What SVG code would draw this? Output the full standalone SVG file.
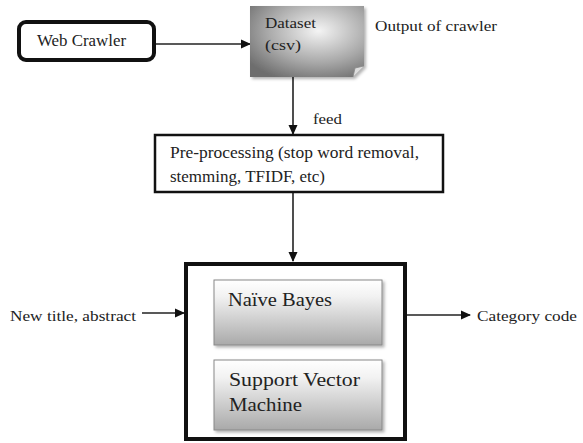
<svg xmlns="http://www.w3.org/2000/svg" width="583" height="443" viewBox="0 0 583 443">
<defs>
<style>
text{font-family:'Liberation Serif','DejaVu Serif',serif;fill:#222}
.ln{stroke:#222;stroke-width:1.6;fill:none}
</style>
<marker id="ah" markerWidth="10" markerHeight="10" refX="9" refY="5" orient="auto" markerUnits="userSpaceOnUse">
<path d="M0,0.5 L10,5 L0,9.5 Z" fill="#111"/>
</marker>
<radialGradient id="dsg" cx="0.6" cy="0.35" r="0.75">
<stop offset="0" stop-color="#f4f4f4"/>
<stop offset="0.6" stop-color="#a8a8a8"/>
<stop offset="1" stop-color="#6e6e6e"/>
</radialGradient>
<linearGradient id="cg" x1="0" y1="0" x2="0" y2="1">
<stop offset="0" stop-color="#ffffff"/>
<stop offset="0.25" stop-color="#f2f2f2"/>
<stop offset="1" stop-color="#a9a9a9"/>
</linearGradient>
<filter id="sh" x="-10%" y="-10%" width="130%" height="130%">
<feDropShadow dx="2" dy="2" stdDeviation="1.5" flood-color="#000" flood-opacity="0.3"/>
</filter>
</defs>
<g font-family="Liberation Serif, DejaVu Serif, serif">
<g id="connectors">
<line class="ln" x1="156" y1="44" x2="250" y2="44" marker-end="url(#ah)"/>
<line class="ln" x1="293" y1="77" x2="293" y2="134" marker-end="url(#ah)"/>
<line class="ln" x1="293" y1="193" x2="293" y2="261" marker-end="url(#ah)"/>
<line class="ln" x1="142" y1="313" x2="184" y2="313" marker-end="url(#ah)"/>
<line class="ln" x1="407" y1="315" x2="470" y2="315" marker-end="url(#ah)"/>
<text x="313" y="124" font-size="15" textLength="29" lengthAdjust="spacingAndGlyphs">feed</text>
</g>
<g id="web-crawler">
<rect x="19" y="22" width="135" height="38" rx="7" fill="#fff" stroke="#111" stroke-width="4"/>
<text x="37" y="46" font-size="16" textLength="89" lengthAdjust="spacingAndGlyphs">Web Crawler</text>
</g>
<g id="dataset">
<path d="M250,6 H364 V66 L353,77 H250 Z" fill="url(#dsg)" filter="url(#sh)"/>
<path d="M353,77 L355,68 L364,66" fill="#ddd" stroke="#888" stroke-width="0.8"/>
<text x="265" y="28" font-size="15" textLength="51" lengthAdjust="spacingAndGlyphs">Dataset</text>
<text x="265" y="50" font-size="15" textLength="36" lengthAdjust="spacingAndGlyphs">(csv)</text>
</g>
<g id="output-label">
<text x="375" y="31" font-size="15" textLength="122" lengthAdjust="spacingAndGlyphs">Output of crawler</text>
</g>
<g id="preprocessing">
<rect x="155" y="135" width="288" height="57" fill="#fff" stroke="#111" stroke-width="2.5"/>
<text x="170" y="158" font-size="16" textLength="249" lengthAdjust="spacingAndGlyphs">Pre-processing (stop word removal,</text>
<text x="170" y="182" font-size="16" textLength="155" lengthAdjust="spacingAndGlyphs">stemming, TFIDF, etc)</text>
</g>
<g id="classifier">
<rect x="186" y="264" width="219" height="175" fill="#fff" stroke="#111" stroke-width="4"/>
</g>
<g id="naive-bayes">
<rect x="214" y="280" width="168" height="65" fill="url(#cg)" stroke="#888" stroke-width="1" filter="url(#sh)"/>
<text x="228" y="306" font-size="18" textLength="104" lengthAdjust="spacingAndGlyphs">Naïve Bayes</text>
</g>
<g id="svm">
<rect x="214" y="360" width="168" height="70" fill="url(#cg)" stroke="#888" stroke-width="1" filter="url(#sh)"/>
<text x="229" y="386" font-size="19" textLength="131" lengthAdjust="spacingAndGlyphs">Support Vector</text>
<text x="229" y="411" font-size="19" textLength="73" lengthAdjust="spacingAndGlyphs">Machine</text>
</g>
<g id="input-label">
<text x="10" y="321" font-size="15" textLength="126" lengthAdjust="spacingAndGlyphs">New title, abstract</text>
</g>
<g id="output-code">
<text x="477" y="321" font-size="15" textLength="100" lengthAdjust="spacingAndGlyphs">Category code</text>
</g>
</g>
</svg>
